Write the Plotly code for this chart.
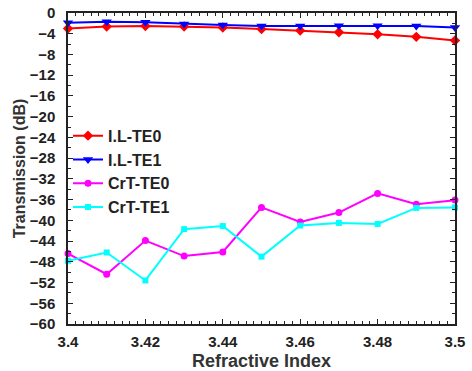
import plotly.graph_objects as go

refractive_index = [3.40, 3.41, 3.42, 3.43, 3.44, 3.45, 3.46, 3.47, 3.48, 3.49, 3.50]
il_te0 = [-3.0, -2.6, -2.5, -2.6, -2.8, -3.1, -3.4, -3.7, -4.1, -4.6, -5.3]
il_te1 = [-1.9, -1.7, -1.8, -2.1, -2.3, -2.5, -2.5, -2.45, -2.45, -2.5, -2.8]
crt_te0 = [-46.4, -50.4, -43.9, -46.9, -46.1, -37.5, -40.3, -38.5, -34.8, -36.9, -36.1]
crt_te1 = [-47.8, -46.2, -51.6, -41.7, -41.1, -47.0, -41.0, -40.5, -40.7, -37.6, -37.5]

series = [
    ("I.L-TE0", il_te0, "#ff0000", "diamond", 8),
    ("I.L-TE1", il_te1, "#0000ff", "triangle-down", 9),
    ("CrT-TE0", crt_te0, "#ff00ff", "circle", 7),
    ("CrT-TE1", crt_te1, "#00ffff", "square", 6),
]

fig = go.Figure()
for name, vals, color, sym, size in series:
    fig.add_trace(go.Scatter(
        x=refractive_index, y=vals, name=name, mode="lines+markers",
        line=dict(color=color, width=2),
        marker=dict(symbol=sym, size=size, color=color),
        cliponaxis=False,
    ))

font_family = "Liberation Sans, Arial, sans-serif"
axis_common = dict(
    showline=True, linecolor="#222", linewidth=1.5, mirror="ticks",
    ticks="inside", ticklen=5, tickcolor="#222", tickwidth=1,
    showgrid=False, zeroline=False, automargin=False,
    tickfont=dict(family=font_family, size=15, color="#222", weight="bold"),
)

fig.update_layout(
    width=472, height=371,
    margin=dict(l=68, r=17, t=13, b=47),
    paper_bgcolor="white", plot_bgcolor="white",
    font=dict(family=font_family, color="#222"),
    xaxis=dict(
        range=[3.4, 3.5],
        tickvals=[3.4, 3.42, 3.44, 3.46, 3.48, 3.5],
        ticktext=["3.4", "3.42", "3.44", "3.46", "3.48", "3.5"],
        minor=dict(dtick=0.002, tick0=3.4, ticks="inside", ticklen=3, tickcolor="#222"),
        ticklabelstandoff=3,
        title=dict(text="<b>Refractive Index</b>", font=dict(family=font_family, size=18, color="#333"), standoff=6),
        **axis_common,
    ),
    yaxis=dict(
        range=[-60, 0], dtick=4, tick0=0,
        minor=dict(dtick=2, ticks="inside", ticklen=3, tickcolor="#222"),
        ticklabelstandoff=8,
        title=dict(text="<b>Transmission (dB)</b>", font=dict(family=font_family, size=16, color="#333"), standoff=0),
        **axis_common,
    ),
    legend=dict(
        x=0.0, y=0.66, xanchor="left", yanchor="top",
        bgcolor="rgba(255,255,255,0)", borderwidth=0,
        font=dict(family=font_family, size=16, color="#222", weight="bold"),
        itemwidth=30, tracegroupgap=0,
    ),
    showlegend=True,
)

fig.write_html("out.html")
